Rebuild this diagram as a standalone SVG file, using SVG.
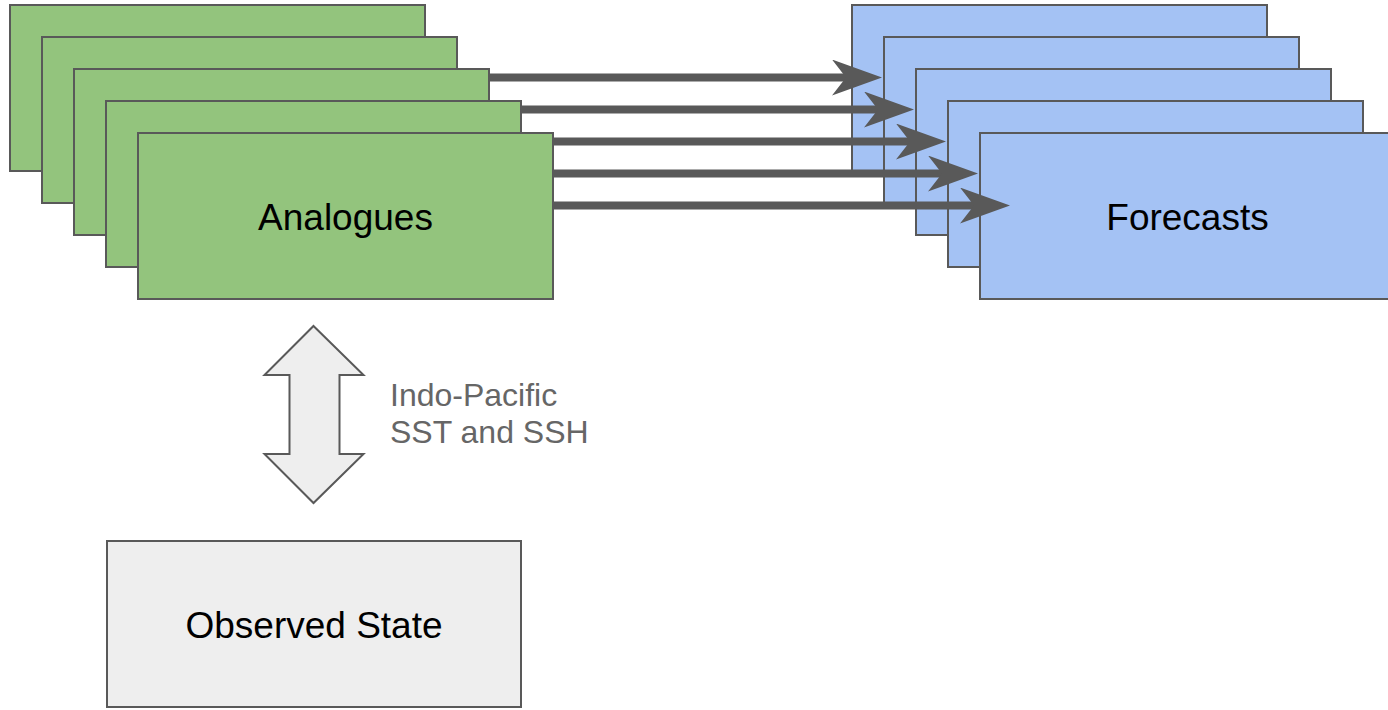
<svg xmlns="http://www.w3.org/2000/svg" width="1388" height="710" viewBox="0 0 1388 710">
<style>
.g{fill:#93c47d;stroke:#595959;stroke-width:2}
.b{fill:#a4c2f4;stroke:#595959;stroke-width:2}
.o{fill:#eeeeee;stroke:#595959;stroke-width:2}
.t{font-family:"Liberation Sans",Arial,sans-serif;font-size:37px;fill:#000;text-anchor:middle}
.lbl{font-family:"Liberation Sans",Arial,sans-serif;font-size:32px;fill:#666666}
.c{stroke:#595959;stroke-width:8;fill:none}
</style>
<defs>
<marker id="ah" viewBox="0 0 50 36" refX="14" refY="18" markerWidth="50" markerHeight="36" markerUnits="userSpaceOnUse" orient="auto">
<path d="M0,0 L50,18 L0,36 L14,18 Z" fill="#595959"/>
</marker>
</defs>
<rect width="1388" height="710" fill="#ffffff"/>
<g id="analogues">
<rect class="g" x="10" y="5" width="415" height="166"/>
<rect class="g" x="42" y="37" width="415" height="166"/>
<rect class="g" x="74" y="69" width="415" height="166"/>
<rect class="g" x="106" y="101" width="415" height="166"/>
<rect class="g" x="138" y="133" width="415" height="166"/>
<text class="t" x="345.5" y="230">Analogues</text>
</g>
<g id="forecasts">
<rect class="b" x="852" y="5" width="415" height="166"/>
<rect class="b" x="884" y="37" width="415" height="166"/>
<rect class="b" x="916" y="69" width="415" height="166"/>
<rect class="b" x="948" y="101" width="415" height="166"/>
<rect class="b" x="980" y="133" width="415" height="166"/>
<text class="t" x="1187.5" y="230">Forecasts</text>
</g>
<g id="observed">
<rect class="o" x="107" y="541" width="414" height="166"/>
<text class="t" x="314" y="638">Observed State</text>
</g>
<g id="connectors">
<line class="c" x1="489" y1="77.5" x2="846" y2="77.5" marker-end="url(#ah)"/>
<line class="c" x1="521" y1="109.5" x2="878" y2="109.5" marker-end="url(#ah)"/>
<line class="c" x1="553" y1="141.5" x2="910" y2="141.5" marker-end="url(#ah)"/>
<line class="c" x1="553" y1="173.5" x2="942" y2="173.5" marker-end="url(#ah)"/>
<line class="c" x1="553" y1="205.5" x2="974" y2="205.5" marker-end="url(#ah)"/>
<path id="double-arrow" class="o" d="M313.5,326 L363.5,375 L339.5,375 L339.5,454 L363.5,454 L313.5,503 L264.5,454 L289.5,454 L289.5,375 L264.5,375 Z"/>
</g>
<g id="label">
<text class="lbl" x="390" y="406">Indo-Pacific</text>
<text class="lbl" x="390" y="443">SST and SSH</text>
</g>
</svg>
